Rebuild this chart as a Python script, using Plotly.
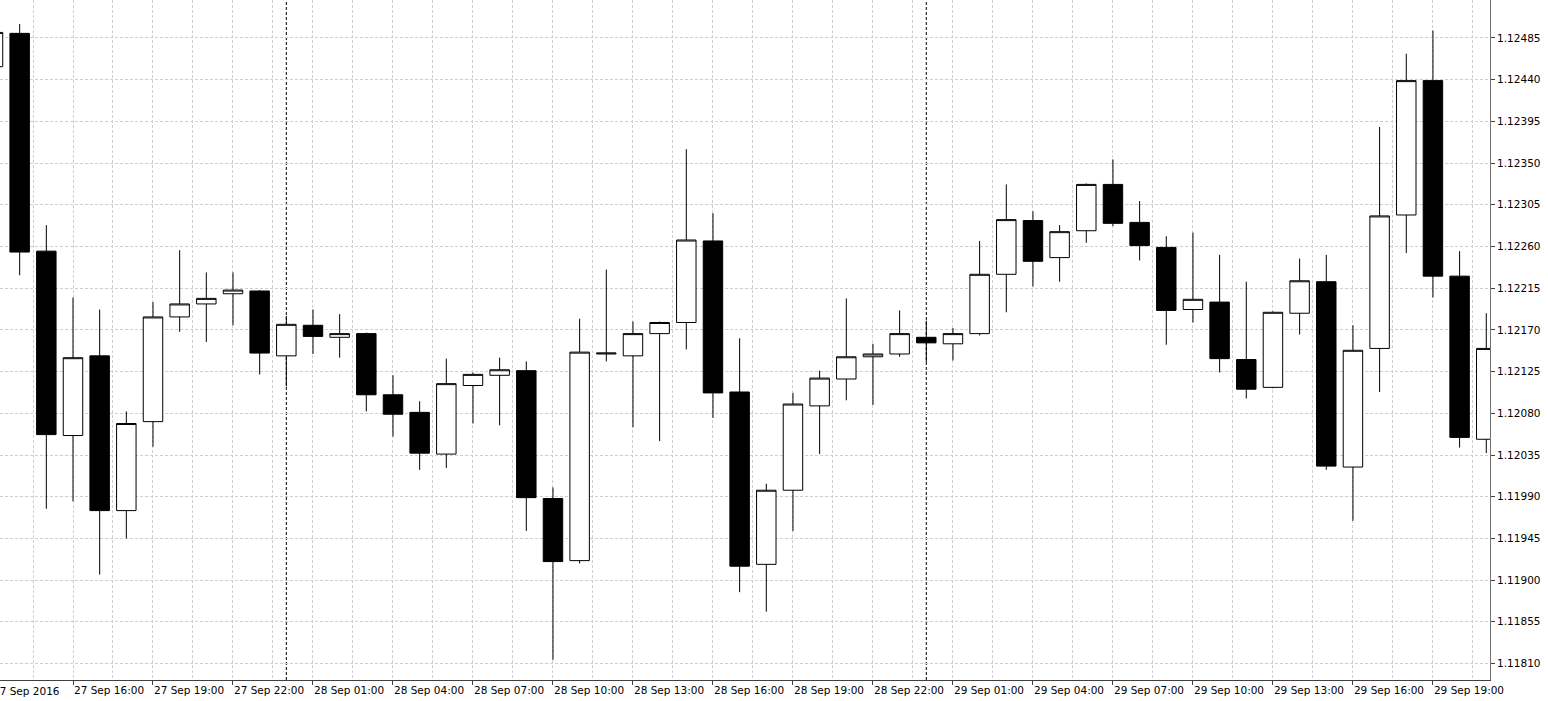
import pandas as pd
import plotly.graph_objects as go

# Hourly EURUSD-style candles, 27 Sep 2016 13:00 .. 29 Sep 2016 21:00
start_time = "2016-09-27 13:00"
n_bars = 57

open_ = [1.12454, 1.12490, 1.12255, 1.12056, 1.12142, 1.11975, 1.12071, 1.12184, 1.12198, 1.12209,
         1.12212, 1.12142, 1.12175, 1.12162, 1.12166, 1.12100, 1.12081, 1.12036, 1.12110, 1.12121,
         1.12126, 1.11988, 1.11921, 1.12144, 1.12142, 1.12166, 1.12178, 1.12266, 1.12103, 1.11917,
         1.11997, 1.12088, 1.12117, 1.12141, 1.12144, 1.12162, 1.12155, 1.12166, 1.12230, 1.12288,
         1.12248, 1.12277, 1.12327, 1.12286, 1.12259, 1.12192, 1.12200, 1.12138, 1.12108, 1.12188,
         1.12222, 1.12022, 1.12150, 1.12294, 1.12439, 1.12228, 1.12052]
high = [1.12500, 1.12500, 1.12283, 1.12205, 1.12192, 1.12082, 1.12200, 1.12256, 1.12232, 1.12232,
        1.12213, 1.12185, 1.12192, 1.12187, 1.12167, 1.12121, 1.12093, 1.12139, 1.12124, 1.12140,
        1.12136, 1.12000, 1.12182, 1.12235, 1.12179, 1.12179, 1.12365, 1.12296, 1.12161, 1.12004,
        1.12102, 1.12126, 1.12204, 1.12155, 1.12191, 1.12180, 1.12172, 1.12266, 1.12327, 1.12298,
        1.12283, 1.12328, 1.12354, 1.12309, 1.12271, 1.12275, 1.12251, 1.12222, 1.12190, 1.12247,
        1.12251, 1.12175, 1.12389, 1.12468, 1.12493, 1.12255, 1.12188]
low = [1.12440, 1.12229, 1.11977, 1.11985, 1.11906, 1.11945, 1.12044, 1.12168, 1.12157, 1.12175,
       1.12122, 1.12109, 1.12144, 1.12140, 1.12082, 1.12055, 1.12019, 1.12021, 1.12069, 1.12067,
       1.11953, 1.11814, 1.11918, 1.12136, 1.12065, 1.12050, 1.12149, 1.12075, 1.11887, 1.11866,
       1.11953, 1.12036, 1.12094, 1.12089, 1.12141, 1.12135, 1.12137, 1.12164, 1.12189, 1.12217,
       1.12222, 1.12264, 1.12282, 1.12245, 1.12154, 1.12178, 1.12124, 1.12096, 1.12107, 1.12165,
       1.12019, 1.11964, 1.12103, 1.12253, 1.12205, 1.12043, 1.12037]
close = [1.12491, 1.12254, 1.12057, 1.12140, 1.11975, 1.12069, 1.12184, 1.12198, 1.12204, 1.12213,
         1.12145, 1.12176, 1.12163, 1.12166, 1.12100, 1.12079, 1.12037, 1.12112, 1.12122, 1.12127,
         1.11989, 1.11920, 1.12146, 1.12145, 1.12166, 1.12178, 1.12267, 1.12102, 1.11915, 1.11997,
         1.12090, 1.12118, 1.12141, 1.12144, 1.12166, 1.12156, 1.12166, 1.12230, 1.12289, 1.12244,
         1.12276, 1.12327, 1.12285, 1.12261, 1.12191, 1.12203, 1.12139, 1.12106, 1.12189, 1.12223,
         1.12023, 1.12148, 1.12293, 1.12439, 1.12228, 1.12054, 1.12150]

# axis settings
y_tick0 = 1.11810
y_dtick = 0.00045
y_range = [1.117922, 1.12526]
first_label = "27 Sep 2016"
top_label_value = 1.12530

times = pd.date_range(start_time, periods=n_bars, freq="h")
hour = pd.Timedelta(hours=1)
x0 = times[0] + 0.2625 * hour
x1 = times[0] + 56.14 * hour

fig = go.Figure(go.Candlestick(
    x=times, open=open_, high=high, low=low, close=close,
    increasing=dict(fillcolor="white", line=dict(color="black", width=1)),
    decreasing=dict(fillcolor="black", line=dict(color="black", width=1)),
    whiskerwidth=0,
    showlegend=False,
))

font = dict(family="DejaVu Sans", size=10.5, color="#000000")
grid_color = "#cfcfcf"
grid_dash = "3px,2px"

fig.update_xaxes(
    type="date", range=[x0, x1], rangeslider=dict(visible=False),
    tick0=times[0], dtick=3 * 3600 * 1000, tickformat="%d %b %H:%M",
    ticks="outside", ticklen=4, tickcolor="#404040",
    ticklabelposition="outside right",
    showgrid=True, gridcolor=grid_color, griddash=grid_dash, gridwidth=1,
    minor=dict(dtick=1.5 * 3600 * 1000, tick0=times[0], showgrid=True,
               gridcolor=grid_color, griddash=grid_dash, gridwidth=1),
    showline=True, linecolor="#404040", linewidth=1,
    tickfont=font, zeroline=False, fixedrange=True,
)
fig.update_yaxes(
    side="right", range=y_range, tick0=y_tick0, dtick=y_dtick, tickformat=".5f",
    ticks="outside", ticklen=4, tickcolor="#404040",
    showgrid=True, gridcolor=grid_color, griddash=grid_dash, gridwidth=1,
    showline=True, linecolor="#707070", linewidth=1,
    tickfont=font, zeroline=False,
)

# day separators at midnight
shapes = []
for t in times:
    if t.hour == 0:
        shapes.append(dict(type="line", xref="x", yref="paper", x0=t, x1=t, y0=0, y1=1,
                           line=dict(color="black", width=1, dash="3px,2px"), layer="below"))

span = (x1 - x0)
ann_x = (times[0] - x0) / span
ann_y = (top_label_value - y_range[0]) / (y_range[1] - y_range[0])
annotations = [
    dict(text=first_label, xref="paper", yref="paper", x=ann_x, y=0, xanchor="left",
         yanchor="top", yshift=-3, xshift=-2, showarrow=False, font=font),
    dict(text=f"{top_label_value:.5f}", xref="paper", yref="paper", x=1, y=ann_y,
         xanchor="left", yanchor="middle", xshift=6, showarrow=False, font=font),
]

fig.update_layout(
    width=1548, height=701,
    margin=dict(l=0, r=58, t=0, b=21),
    plot_bgcolor="white", paper_bgcolor="white",
    shapes=shapes, annotations=annotations,
    boxgap=0.27, boxgroupgap=0.0,
    showlegend=False,
)

fig.write_html("out.html", config={"displayModeBar": False},
               post_script="document.body.style.margin='0px';document.body.style.overflow='hidden';")
